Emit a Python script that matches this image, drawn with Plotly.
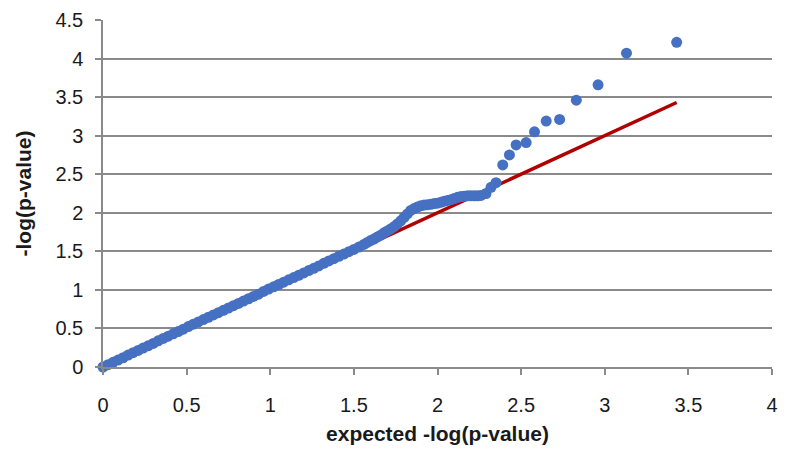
import plotly.graph_objects as go

expected = [0.00, 0.03, 0.06, 0.09, 0.12, 0.15, 0.18, 0.21, 0.24, 0.27,
            0.30, 0.33, 0.36, 0.39, 0.42, 0.45, 0.48, 0.51, 0.54, 0.57,
            0.60, 0.63, 0.66, 0.69, 0.72, 0.75, 0.78, 0.81, 0.84, 0.87,
            0.90, 0.93, 0.96, 0.99, 1.02, 1.05, 1.08, 1.11, 1.14, 1.17,
            1.20, 1.23, 1.26, 1.29, 1.32, 1.35, 1.38, 1.41, 1.44, 1.47,
            1.50, 1.53, 1.56, 1.58, 1.60, 1.62, 1.64, 1.66, 1.68, 1.70,
            1.72, 1.74, 1.76, 1.78, 1.80, 1.82, 1.84, 1.86, 1.88, 1.90,
            1.92, 1.94, 1.96, 1.98, 2.00, 2.02, 2.04, 2.06, 2.08, 2.10,
            2.12, 2.14, 2.16, 2.18, 2.20, 2.22, 2.24, 2.26, 2.29, 2.32,
            2.35, 2.39, 2.43, 2.47, 2.53, 2.58, 2.65, 2.73, 2.83, 2.96,
            3.13, 3.43]
observed = [0.00, 0.03, 0.06, 0.09, 0.12, 0.155, 0.185, 0.215, 0.245, 0.275,
            0.305, 0.34, 0.37, 0.40, 0.43, 0.46, 0.49, 0.525, 0.555, 0.585,
            0.615, 0.645, 0.675, 0.705, 0.735, 0.765, 0.795, 0.825, 0.855, 0.885,
            0.915, 0.945, 0.98, 1.01, 1.04, 1.07, 1.10, 1.13, 1.16, 1.19,
            1.22, 1.25, 1.28, 1.31, 1.345, 1.375, 1.405, 1.435, 1.465, 1.495,
            1.525, 1.555, 1.59, 1.615, 1.64, 1.66, 1.685, 1.71, 1.74, 1.765,
            1.79, 1.82, 1.855, 1.895, 1.94, 1.985, 2.03, 2.055, 2.075, 2.09,
            2.10, 2.105, 2.11, 2.12, 2.125, 2.135, 2.15, 2.16, 2.17, 2.185,
            2.20, 2.21, 2.215, 2.22, 2.22, 2.22, 2.22, 2.225, 2.25, 2.33,
            2.39, 2.62, 2.75, 2.88, 2.91, 3.05, 3.19, 3.21, 3.46, 3.66,
            4.07, 4.21]

# Reference (null) line endpoints
line_x = [0, 3.43]
line_y = [0, 3.43]

x_ticks = [0, 0.5, 1, 1.5, 2, 2.5, 3, 3.5, 4]
y_ticks = [0, 0.5, 1, 1.5, 2, 2.5, 3, 3.5, 4, 4.5]
x_title = "expected -log(p-value)"
y_title = "-log(p-value)"

FONT = "Liberation Sans, Arial, sans-serif"

fig = go.Figure()
fig.add_trace(go.Scatter(
    x=line_x, y=line_y, mode="lines",
    line=dict(color="#B00000", width=3.5),
    showlegend=False, hoverinfo="skip"))
fig.add_trace(go.Scatter(
    x=expected, y=observed, mode="markers", cliponaxis=False,
    marker=dict(color="#4670C2", size=11, line=dict(width=0)),
    showlegend=False))

fig.update_layout(
    width=795, height=452,
    margin=dict(l=95, r=31, t=12, b=93),
    paper_bgcolor="white", plot_bgcolor="white",
    font=dict(family=FONT, color="#1a1a1a", size=20),
    xaxis=dict(
        range=[0, 4], tickvals=x_ticks, ticktext=[f"{v:g}" for v in x_ticks],
        automargin=False,
        showgrid=False, zeroline=False,
        showline=True, linecolor="#8a8a8a", linewidth=1.5,
        ticks="outside", ticklen=6, tickcolor="#8a8a8a", tickwidth=1.5,
        ticklabelstandoff=13,
        tickfont=dict(size=20, family=FONT),
        title=dict(text=f"<b>{x_title}</b>", font=dict(size=21, family=FONT), standoff=12),
    ),
    yaxis=dict(
        range=[0, 4.5], tickvals=y_ticks, ticktext=[f"{v:g}" for v in y_ticks],
        automargin=False,
        showgrid=True, gridcolor="#8a8a8a", gridwidth=1.5,
        zeroline=False,
        showline=True, linecolor="#8a8a8a", linewidth=1.5,
        ticks="outside", ticklen=6, tickcolor="#8a8a8a", tickwidth=1.5,
        ticklabelstandoff=8,
        tickfont=dict(size=20, family=FONT),
        title=dict(text=f"<b>{y_title}</b>", font=dict(size=21, family=FONT), standoff=18),
    ),
)

fig.write_html("out.html")
